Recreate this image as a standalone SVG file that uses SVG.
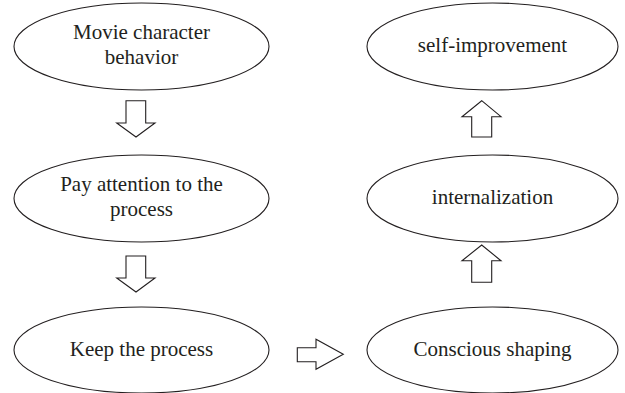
<svg xmlns="http://www.w3.org/2000/svg" width="625" height="393" viewBox="0 0 625 393">
<style>
.node ellipse{fill:#fff;stroke:#231f20;stroke-width:1.1}
.node text{font-family:"Liberation Serif","Times New Roman",serif;font-size:21px;fill:#231f20;text-anchor:middle}
.conn path{fill:#fff;stroke:#231f20;stroke-width:1.1;stroke-linejoin:miter}
</style>
<rect width="625" height="393" fill="#fff"/>
<g id="n1" class="node"><ellipse cx="141.5" cy="46.5" rx="127.5" ry="43.5"/><text x="141.5" y="38.5">Movie character</text><text x="141.5" y="63.5">behavior</text></g>
<g id="n2" class="node"><ellipse cx="141.5" cy="198.5" rx="127.5" ry="43.5"/><text x="141.5" y="190.5">Pay attention to the</text><text x="141.5" y="215.5">process</text></g>
<g id="n3" class="node"><ellipse cx="141.5" cy="350" rx="127.5" ry="43"/><text x="141.5" y="355.5">Keep the process</text></g>
<g id="n4" class="node"><ellipse cx="492.5" cy="350" rx="125.5" ry="43"/><text x="492.5" y="355.5">Conscious shaping</text></g>
<g id="n5" class="node"><ellipse cx="492.5" cy="198.5" rx="125.5" ry="43.5"/><text x="492.5" y="204">internalization</text></g>
<g id="n6" class="node"><ellipse cx="492.5" cy="46.5" rx="125.5" ry="43.5"/><text x="492.5" y="52">self-improvement</text></g>
<g id="connectors" class="conn">
<path d="M126,100.7 H145.7 V123 H155 L136,137 L116.7,123 H126 Z"/>
<path d="M126,256 H145.7 V278 H155 L136,292 L116.7,278 H126 Z"/>
<path d="M297.3,347.7 H316 V339.3 L343.3,354.3 L316,369.3 V361.7 H297.3 Z"/>
<path d="M471.7,282.3 V260.7 H462 L481.7,245 L501,260.7 H491.7 V282.3 Z"/>
<path d="M471.7,137 V116.7 H462 L481.7,100.7 L501,116.7 H491.7 V137 Z"/>
</g>
</svg>
